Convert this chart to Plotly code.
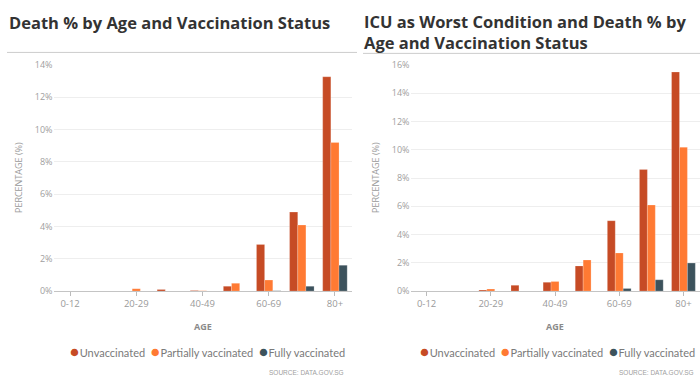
import plotly.graph_objects as go

ages = ["0-12", "12-19", "20-29", "30-39", "40-49", "50-59", "60-69", "70-79", "80+"]
tick_ages = ["0-12", "20-29", "40-49", "60-69", "80+"]
series_names = ["Unvaccinated", "Partially vaccinated", "Fully vaccinated"]
colors = ["#C64B25", "#FF7A33", "#3C525C"]

death_unvacc = [0, 0, 0, 0.1, 0.04, 0.3, 2.89, 4.89, 13.27]
death_partial = [0, 0, 0.15, 0, 0.02, 0.48, 0.68, 4.09, 9.2]
death_fully = [0, 0, 0, 0, 0, 0, 0.02, 0.3, 1.6]

icu_unvacc = [0, 0, 0.07, 0.41, 0.62, 1.78, 4.98, 8.6, 15.5]
icu_partial = [0, 0, 0.14, 0, 0.68, 2.2, 2.7, 6.09, 10.18]
icu_fully = [0, 0, 0, 0, 0, 0, 0.18, 0.8, 1.98]

title_left = "Death % by Age and Vaccination Status"
title_right_lines = ["ICU as Worst Condition and Death % by", "Age and Vaccination Status"]

W, H = 700, 386
def px(x):
    return x / W
def py(y):
    return 1 - y / H

fig = go.Figure()

panels = [
    ((death_unvacc, death_partial, death_fully), "x", "y"),
    ((icu_unvacc, icu_partial, icu_fully), "x2", "y2"),
]
for vals3, xa, ya in panels:
    for name, col, vals in zip(series_names, colors, vals3):
        fig.add_trace(go.Bar(
            x=ages, y=vals, name=name, marker_color=col,
            marker_line_width=0.6, marker_line_color="rgba(255,255,255,0.35)",
            xaxis=xa, yaxis=ya, showlegend=False))

font_main = "Open Sans"
axis_common = dict(
    type="category", categoryorder="array", categoryarray=ages,
    tickmode="array", tickvals=tick_ages, ticktext=tick_ages,
    ticks="outside", ticklen=4, tickcolor="#bbbbbb",
    showline=True, linecolor="#c4c4c4", linewidth=1,
    showgrid=False, tickfont=dict(size=9.5, color="#9a9a9a", family=font_main),
    fixedrange=True,
)
yaxis_common = dict(
    dtick=2, ticksuffix="%", showgrid=True, gridcolor="#eeeeee", gridwidth=1,
    zeroline=False, showline=False,
    tickfont=dict(size=9, color="#a0a0a0", family=font_main), fixedrange=True,
)

ydom = [py(294), py(60)]
fig.update_layout(
    width=W, height=H, margin=dict(l=0, r=0, t=0, b=0),
    paper_bgcolor="white", plot_bgcolor="white",
    barmode="group", bargap=0.26, bargroupgap=0,
    showlegend=False,
    xaxis=dict(domain=[px(53.5), px(351.5)], anchor="y", **axis_common),
    yaxis=dict(domain=ydom, anchor="x", range=[0, 14], **yaxis_common),
    xaxis2=dict(domain=[px(410.5), px(699.5)], anchor="y2", **axis_common),
    yaxis2=dict(domain=ydom, anchor="x2", range=[0, 16], **yaxis_common),
    font=dict(family=font_main),
)

title_font = dict(size=16.5, color="#333333", family=font_main)
ann = []
ann.append(dict(text="<b>" + title_left + "</b>", x=px(7), y=py(16.5), xref="paper", yref="paper",
                xanchor="left", yanchor="middle", showarrow=False, font=title_font))
for i, line in enumerate(title_right_lines):
    ann.append(dict(text="<b>" + line + "</b>", x=px(363), y=py(15.5 + 21.5 * i),
                    xref="paper", yref="paper", xanchor="left", yanchor="middle",
                    borderpad=0, showarrow=False, font=title_font))

for xc_title, xc_axis, xr in [(18, 202.5, 346), (375, 555, 696)]:
    ann.append(dict(text="PERCENTAGE (%)", x=px(xc_title), y=py(177), xref="paper", yref="paper",
                    textangle=-90, showarrow=False, xanchor="center", yanchor="middle",
                    font=dict(size=9, color="#9a9a9a", family=font_main)))
    ann.append(dict(text="<b>AGE</b>", x=px(xc_axis), y=py(331), xref="paper", yref="paper",
                    showarrow=False, xanchor="center", yanchor="middle",
                    font=dict(size=9, color="#8a8a8a", family=font_main)))
    legend_txt = "&nbsp;&nbsp;".join(
        "<span style='color:%s;font-size:15px'>●</span>&#8202;%s" % (c, n)
        for c, n in zip(colors, series_names))
    ann.append(dict(text=legend_txt, x=px(xr + 1), y=py(356), xref="paper", yref="paper",
                    showarrow=False, xanchor="right", yanchor="middle",
                    font=dict(size=11, color="#7a7a7a", family="Lato")))
    ann.append(dict(text="SOURCE: DATA.GOV.SG", x=px(xr), y=py(378), xref="paper", yref="paper",
                    showarrow=False, xanchor="right", yanchor="middle",
                    font=dict(size=6.5, color="#a0a0a0", family="Liberation Sans")))

fig.update_layout(annotations=ann)

fig.update_layout(shapes=[
    dict(type="line", xref="paper", yref="paper", x0=px(7), x1=px(357), y0=py(47), y1=py(47),
         line=dict(color="#cccccc", width=1)),
    dict(type="line", xref="paper", yref="paper", x0=px(363), x1=px(700), y0=py(48), y1=py(48),
         line=dict(color="#cccccc", width=1)),
])

fig.write_html("out.html", config={"displayModeBar": False},
               post_script="document.body.style.margin='0';document.body.style.overflow='hidden';")
